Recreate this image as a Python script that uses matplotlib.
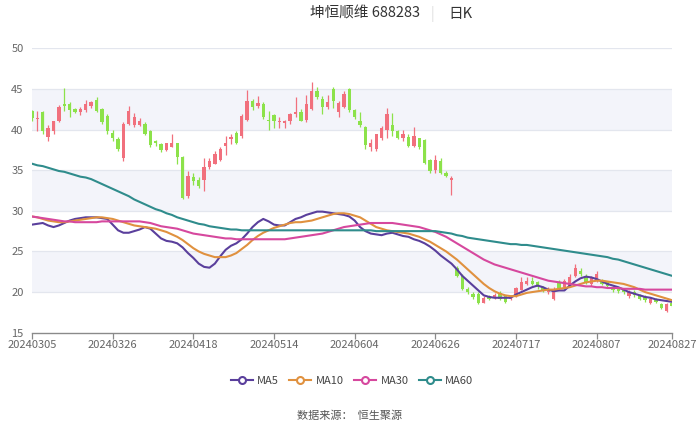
import matplotlib
matplotlib.use("Agg")
import matplotlib.pyplot as plt
from matplotlib.lines import Line2D
import numpy as np
import pandas as pd

plt.rcParams['font.family'] = ['Noto Sans CJK SC', 'DejaVu Sans']

# ---------------- data ----------------
holidays = ["2024-04-04", "2024-04-05", "2024-05-01", "2024-05-02", "2024-05-03", "2024-06-10"]
dates = [d.strftime("%Y%m%d") for d in pd.bdate_range("2024-03-05", "2024-08-27", freq="C", holidays=holidays)]
tick_labels = ["20240305", "20240326", "20240418", "20240514", "20240604",
               "20240626", "20240717", "20240807", "20240827"]

opens = [42.3, 41.3, 42.1, 39.1, 39.8, 41.0, 43.2, 43.2, 42.5, 42.2,
         42.4, 42.9, 43.6, 42.5, 41.7, 39.6, 38.8, 36.5, 40.7, 40.5,
         40.6, 40.7, 39.8, 38.6, 38.2, 37.5, 37.9, 38.4, 36.6, 31.8,
         34.1, 33.8, 33.8, 35.4, 35.8, 36.2, 38.0, 38.8, 39.6, 39.2,
         41.2, 43.5, 42.9, 43.2, 41.2, 41.8, 40.9, 40.8, 41.1, 41.9,
         42.1, 41.2, 42.5, 44.8, 43.7, 42.8, 45.0, 42.1, 42.8, 45.0,
         42.4, 41.1, 40.3, 37.8, 37.6, 38.9, 40.0, 40.6, 39.8, 39.0,
         39.1, 38.0, 38.9, 38.7, 36.2, 35.0, 36.1, 34.7, 33.8,
         23.0, 22.0, 20.4, 19.8, 19.8, 18.7, 19.5, 19.3, 19.9, 19.5,
         19.1, 19.5, 20.3, 21.0, 21.4, 21.2, 20.6, 20.0, 19.2, 21.3,
         20.6, 20.8, 22.0, 22.6, 22.0, 21.0, 21.4, 21.4, 21.2, 20.6,
         20.5, 20.3, 19.5, 20.0, 19.6, 19.4, 18.7, 19.1, 18.5, 17.7,
         18.6]
closes = [41.4, 41.4, 39.8, 40.2, 41.0, 42.8, 42.9, 42.4, 42.2, 42.5,
          43.1, 43.4, 42.3, 40.9, 39.8, 38.9, 37.6, 40.7, 42.3, 41.6,
          41.0, 39.5, 38.1, 38.3, 37.5, 38.3, 38.4, 36.6, 31.6, 34.3,
          33.7, 33.0, 35.4, 36.1, 37.0, 37.6, 38.4, 39.1, 38.4, 41.7,
          43.5, 42.8, 43.3, 41.5, 41.0, 41.0, 41.1, 41.1, 41.9, 42.1,
          41.1, 43.2, 44.7, 44.0, 42.8, 43.4, 43.5, 43.3, 44.4, 42.4,
          41.5, 40.5, 38.1, 38.4, 39.4, 40.2, 41.9, 39.8, 38.9, 39.4,
          38.0, 39.2, 37.8, 35.9, 34.9, 36.2, 34.7, 34.3, 34.0,
          22.0, 20.4, 20.0, 19.4, 18.7, 19.3, 19.1, 19.7, 19.1, 18.8,
          19.5, 20.5, 21.3, 21.4, 21.0, 20.6, 20.1, 20.4, 20.4, 20.5,
          21.4, 21.8, 23.0, 22.2, 21.2, 21.8, 22.2, 21.0, 20.8, 20.2,
          20.1, 20.0, 20.0, 19.6, 19.2, 19.0, 19.2, 18.8, 18.1, 18.5,
          18.3]
highs = [42.4, 42.3, 42.3, 40.5, 41.1, 43.0, 45.1, 43.4, 42.7, 42.8,
         43.6, 43.5, 44.0, 42.6, 41.9, 40.0, 39.1, 40.9, 42.9, 42.0,
         41.4, 40.9, 39.9, 38.7, 38.4, 38.4, 39.4, 38.4, 36.7, 34.9,
         34.6, 34.1, 36.5, 36.5, 37.3, 37.9, 39.2, 39.4, 39.8, 41.9,
         44.9, 43.7, 44.1, 43.4, 42.3, 41.9, 41.5, 41.2, 42.0, 44.0,
         42.5, 44.3, 45.8, 45.2, 44.1, 44.3, 45.2, 43.5, 44.8, 45.1,
         42.5, 42.1, 40.4, 38.8, 39.5, 40.4, 42.7, 42.0, 40.0, 40.0,
         39.4, 40.3, 39.0, 38.8, 36.4, 36.9, 36.5, 34.9, 34.3,
         23.2, 22.2, 20.6, 20.0, 20.0, 19.5, 19.7, 19.9, 20.1, 19.6,
         19.7, 20.6, 21.8, 21.8, 21.8, 21.4, 20.8, 20.6, 20.6, 21.5,
         21.6, 22.2, 23.4, 23.0, 22.2, 22.0, 22.6, 21.6, 21.3, 20.8,
         20.6, 20.4, 20.2, 20.2, 19.8, 19.6, 19.4, 19.3, 18.7, 18.7,
         18.7]
lows = [41.1, 39.8, 39.5, 38.6, 39.5, 40.9, 42.3, 41.5, 42.0, 41.8,
        42.2, 42.7, 42.2, 40.7, 39.5, 38.6, 37.3, 36.1, 40.5, 40.3,
        40.4, 39.3, 37.9, 38.0, 37.2, 37.4, 37.8, 35.7, 31.5, 31.6,
        33.2, 32.8, 32.5, 35.2, 35.7, 36.1, 36.9, 38.2, 38.2, 39.0,
        41.1, 42.4, 42.7, 41.3, 40.0, 40.2, 40.2, 40.2, 40.7, 41.5,
        41.0, 40.9, 42.4, 43.7, 41.9, 42.5, 42.7, 41.5, 42.7, 42.2,
        41.3, 40.3, 37.6, 37.3, 37.4, 38.7, 39.0, 39.2, 38.8, 38.6,
        37.8, 37.8, 37.6, 35.7, 34.6, 34.7, 34.5, 34.1, 32.0,
        21.8, 20.2, 19.8, 19.2, 18.5, 18.6, 19.0, 19.2, 19.0, 18.6,
        19.0, 19.4, 20.2, 20.9, 20.9, 20.4, 20.0, 19.8, 19.0, 20.3,
        20.5, 20.7, 21.9, 22.0, 21.0, 20.8, 21.2, 20.9, 20.6, 20.0,
        19.9, 19.8, 19.3, 19.4, 19.0, 18.8, 18.5, 18.6, 17.9, 17.5,
        18.2]

ma5 = [28.3, 28.4, 28.5, 28.2, 28.0, 28.2, 28.5, 28.8, 29.0, 29.1,
       29.2, 29.2, 29.2, 29.1, 29.0, 28.3, 27.6, 27.3, 27.3, 27.5,
       27.7, 28.0, 27.8, 27.2, 26.6, 26.3, 26.2, 26.0, 25.5, 24.8,
       24.2, 23.5, 23.1, 23.0, 23.5, 24.4, 25.2, 25.7, 26.0, 26.5,
       27.2, 28.0, 28.6, 29.0, 28.7, 28.3, 28.2, 28.2, 28.6, 29.0,
       29.2, 29.5, 29.7, 29.9, 29.9, 29.8, 29.7, 29.6, 29.5, 29.3,
       28.8, 28.0, 27.5, 27.2, 27.1, 27.0, 27.2, 27.3, 27.1, 26.9,
       26.8, 26.5, 26.3, 26.0, 25.6, 25.1, 24.5, 24.0, 23.5, 22.8,
       22.0, 21.4, 20.8, 20.2, 19.6, 19.4, 19.3, 19.3, 19.3, 19.3,
       19.7, 20.0, 20.3, 20.6, 20.8, 20.6, 20.3, 20.1, 20.2, 20.2,
       20.8, 21.3, 21.7, 21.9, 21.8, 21.6, 21.3, 21.0, 20.8, 20.6,
       20.3, 20.0, 19.8, 19.6, 19.4, 19.3, 19.1, 19.0, 18.9, 18.8]
ma10 = [29.3, 29.2, 29.0, 28.8, 28.7, 28.6, 28.6, 28.7, 28.8, 28.9,
        29.0, 29.1, 29.2, 29.2, 29.1, 29.0, 28.8, 28.6, 28.4, 28.2,
        28.1, 28.0, 27.9, 27.8, 27.6, 27.4, 27.1, 26.8, 26.4, 25.9,
        25.4, 25.0, 24.7, 24.5, 24.3, 24.3, 24.3, 24.5, 24.8, 25.3,
        25.8, 26.4, 26.9, 27.3, 27.6, 27.9, 28.1, 28.3, 28.5, 28.6,
        28.6, 28.7, 28.8, 29.0, 29.2, 29.4, 29.6, 29.7, 29.7, 29.6,
        29.4, 29.2, 28.8, 28.4, 28.0, 27.8, 27.6, 27.5, 27.4, 27.3,
        27.2, 27.0, 26.8, 26.5, 26.2, 25.8, 25.4, 25.0, 24.5, 24.0,
        23.4, 22.8, 22.2, 21.6, 21.0, 20.5, 20.1, 19.8, 19.6, 19.5,
        19.5, 19.7, 19.9, 20.0, 20.1, 20.2, 20.3, 20.3, 20.4, 20.5,
        20.6, 20.8, 21.0, 21.2, 21.3, 21.4, 21.4, 21.3, 21.2, 21.1,
        21.0, 20.8, 20.6, 20.3, 20.0, 19.8, 19.6, 19.4, 19.2, 19.0]
ma30 = [29.3, 29.2, 29.1, 29.0, 28.9, 28.8, 28.7, 28.7, 28.6, 28.6,
        28.6, 28.6, 28.6, 28.7, 28.7, 28.7, 28.7, 28.7, 28.7, 28.7,
        28.7, 28.6, 28.5, 28.3, 28.1, 28.0, 27.9, 27.8, 27.6, 27.4,
        27.2, 27.1, 27.0, 26.9, 26.8, 26.7, 26.6, 26.6, 26.5, 26.5,
        26.5, 26.5, 26.5, 26.5, 26.5, 26.5, 26.5, 26.5, 26.6, 26.7,
        26.8, 26.9, 27.0, 27.1, 27.2, 27.4, 27.6, 27.8, 28.0, 28.1,
        28.2, 28.3, 28.4, 28.5, 28.5, 28.5, 28.5, 28.5, 28.4, 28.3,
        28.2, 28.1, 28.0, 27.8, 27.6, 27.4, 27.1, 26.8, 26.4, 26.0,
        25.6, 25.2, 24.8, 24.4, 24.0, 23.7, 23.4, 23.2, 23.0, 22.8,
        22.6, 22.4, 22.2, 22.0, 21.8, 21.6, 21.4, 21.3, 21.2, 21.1,
        21.0, 20.9, 20.8, 20.7, 20.7, 20.6, 20.6, 20.5, 20.5, 20.5,
        20.4, 20.4, 20.4, 20.4, 20.3, 20.3, 20.3, 20.3, 20.3, 20.3]
ma60 = [35.8, 35.6, 35.5, 35.3, 35.1, 34.9, 34.8, 34.6, 34.4, 34.2,
        34.1, 33.9, 33.6, 33.3, 33.0, 32.7, 32.4, 32.1, 31.8, 31.4,
        31.1, 30.8, 30.5, 30.2, 30.0, 29.7, 29.5, 29.2, 29.0, 28.8,
        28.6, 28.4, 28.3, 28.1, 28.0, 27.9, 27.8, 27.7, 27.7, 27.6,
        27.6, 27.6, 27.6, 27.6, 27.6, 27.6, 27.6, 27.6, 27.6, 27.6,
        27.6, 27.6, 27.6, 27.6, 27.6, 27.6, 27.6, 27.6, 27.6, 27.6,
        27.6, 27.6, 27.6, 27.6, 27.5, 27.5, 27.5, 27.5, 27.5, 27.5,
        27.5, 27.5, 27.5, 27.5, 27.5, 27.5, 27.4, 27.3, 27.2, 27.0,
        26.9, 26.7, 26.6, 26.5, 26.4, 26.3, 26.2, 26.1, 26.0, 25.9,
        25.9, 25.8, 25.8, 25.7, 25.6, 25.5, 25.4, 25.3, 25.2, 25.1,
        25.0, 24.9, 24.8, 24.7, 24.6, 24.5, 24.4, 24.3, 24.1, 24.0,
        23.8, 23.6, 23.4, 23.2, 23.0, 22.8, 22.6, 22.4, 22.2, 22.0]

y_ticks = [15, 20, 25, 30, 35, 40, 45, 50]
ma_names = ["MA5", "MA10", "MA30", "MA60"]
title_name = "坤恒顺维 688283"
title_period = "日K"
source_text = "数据来源：  恒生聚源"

# ---------------- style ----------------
UP = "#f1707d"
DOWN = "#8ce24a"
ma_colors = ["#5a3f9c", "#e0913f", "#d6489e", "#2f8c8c"]
band_color = "#f3f4fa"
grid_color = "#e3e6ee"
text_color = "#666666"

fig = plt.figure(figsize=(7.0, 4.26), dpi=100)
ax = fig.add_axes([32 / 700, (426 - 332.7) / 426, 640 / 700, (332.7 - 48.3) / 426])

x = np.arange(len(dates))
o = np.array(opens); c = np.array(closes); h = np.array(highs); l = np.array(lows)
up = c >= o
cols = np.where(up, UP, DOWN)

# background bands and grid
for i in range(len(y_ticks) - 1):
    if i % 2 == 1:
        ax.axhspan(y_ticks[i], y_ticks[i + 1], color=band_color, zorder=0, lw=0)
for yt in y_ticks[1:]:
    ax.axhline(yt, color=grid_color, lw=0.9, zorder=0.5)

# candles
ax.vlines(x, l, h, colors=cols, lw=0.9, zorder=2)
body_bottom = np.minimum(o, c)
body_h = np.maximum(np.abs(c - o), 0.08)
ax.bar(x, body_h, bottom=body_bottom, width=0.62, color=cols, lw=0, zorder=3)

# moving averages
for series, col in zip([ma5, ma10, ma30, ma60], ma_colors):
    ax.plot(x, series, color=col, lw=1.5, zorder=4, solid_capstyle="round")

ax.set_xlim(0, len(dates) - 1)
ax.set_ylim(y_ticks[0], y_ticks[-1])
ax.set_yticks(y_ticks)
ax.set_yticklabels([str(v) for v in y_ticks], color=text_color, fontsize=8)
ax.tick_params(axis="y", length=0, pad=6)
tick_pos = [dates.index(t) for t in tick_labels]
ax.set_xticks(tick_pos)
ax.set_xticklabels(tick_labels, color=text_color, fontsize=8)
ax.tick_params(axis="x", length=4, color="#8a8a8a", width=0.9, pad=1)
for s in ["top", "right", "left"]:
    ax.spines[s].set_visible(False)
ax.spines["bottom"].set_color("#8a8a8a")
ax.spines["bottom"].set_linewidth(1.0)
ax.set_facecolor("white")

# title
fig.text(365 / 700, 1 - 14 / 426, title_name, ha="center", va="center", fontsize=10.5, color="#333333")
fig.text(432 / 700, 1 - 14 / 426, "|", ha="center", va="center", fontsize=10, color="#dddddd")
fig.text(460 / 700, 1 - 14 / 426, title_period, ha="center", va="center", fontsize=10.5, color="#333333")

# legend
handles = [Line2D([0], [0], color=col, lw=1.5, marker="o", markersize=5,
                  markerfacecolor="white", markeredgecolor=col, markeredgewidth=1.5)
           for col in ma_colors]
fig.legend(handles, ma_names, loc="center", bbox_to_anchor=(352 / 700, 1 - 381 / 426),
           ncol=4, frameon=False, fontsize=8, handlelength=2.0, handletextpad=0.4,
           columnspacing=0.9, labelcolor="#444444")

fig.text(350 / 700, 1 - 416 / 426, source_text, ha="center", va="center", fontsize=8, color="#555555")

fig.savefig("out.png", dpi=100)
